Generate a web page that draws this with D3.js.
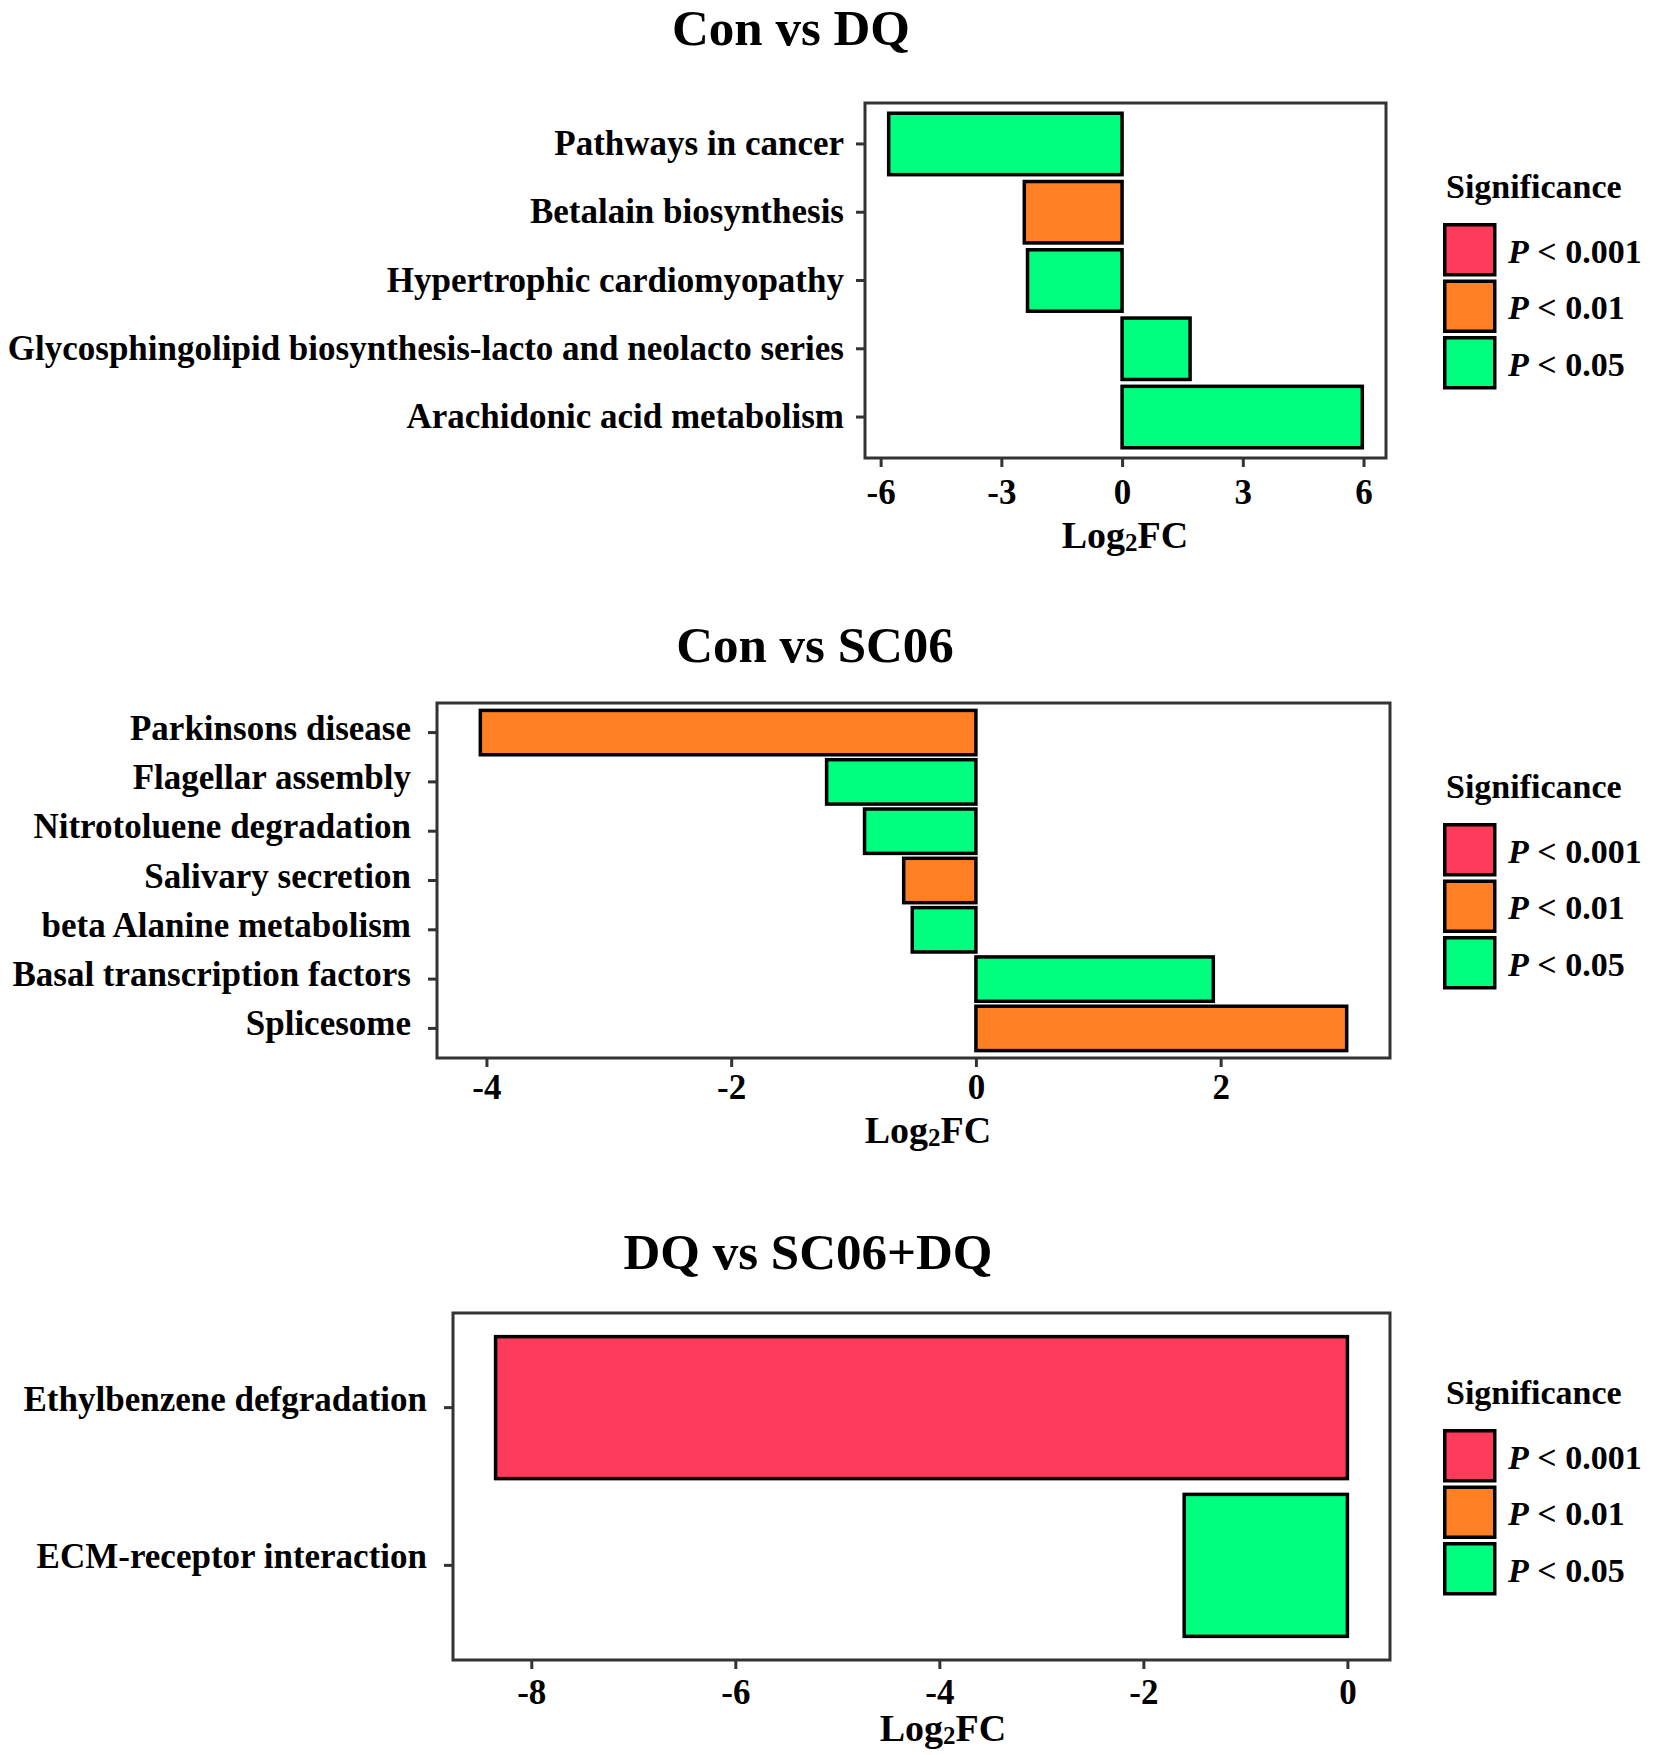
<!DOCTYPE html>
<html>
<head>
<meta charset="utf-8">
<script src="https://cdn.jsdelivr.net/npm/d3@7"></script>
<style>
  body { margin: 0; background: #fff; }
  svg { display: block; }
  text { font-family: "Liberation Serif", "Times New Roman", serif; font-weight: bold; fill: #000; }
</style>
</head>
<body>
<svg id="chart" width="1653" height="1755"></svg>
<script>
// ---- data ----
// Con vs DQ
var dqTerms = ["Pathways in cancer", "Betalain biosynthesis", "Hypertrophic cardiomyopathy",
               "Glycosphingolipid biosynthesis-lacto and neolacto series", "Arachidonic acid metabolism"];
var dqFC = [-5.80, -2.43, -2.35, 1.69, 5.97];
var dqSig = ["P < 0.05", "P < 0.01", "P < 0.05", "P < 0.05", "P < 0.05"];
var dqTicks = [-6, -3, 0, 3, 6];

// Con vs SC06
var sc06Terms = ["Parkinsons disease", "Flagellar assembly", "Nitrotoluene degradation", "Salivary secretion",
                 "beta Alanine metabolism", "Basal transcription factors", "Splicesome"];
var sc06FC = [-4.05, -1.22, -0.91, -0.59, -0.52, 1.94, 3.03];
var sc06Sig = ["P < 0.01", "P < 0.05", "P < 0.05", "P < 0.01", "P < 0.05", "P < 0.05", "P < 0.01"];
var sc06Ticks = [-4, -2, 0, 2];

// DQ vs SC06+DQ
var mixTerms = ["Ethylbenzene defgradation", "ECM-receptor interaction"];
var mixFC = [-8.35, -1.60];
var mixSig = ["P < 0.001", "P < 0.05"];
var mixTicks = [-8, -6, -4, -2, 0];

var sigLevels = ["P < 0.001", "P < 0.01", "P < 0.05"];
var sigColors = ["#ff3b5b", "#ff7f24", "#00ff7f"];

var panels = [
  { title: "Con vs DQ", terms: dqTerms, fc: dqFC, sig: dqSig, ticks: dqTicks,
    x0: 865, x1: 1386, y0: 103, y1: 458, titleX: 791, titleY: 45,
    labPad: 12, labDy: 11, tickBase: 504, xlabX: 1125, xlabY: 548 },
  { title: "Con vs SC06", terms: sc06Terms, fc: sc06FC, sig: sc06Sig, ticks: sc06Ticks,
    x0: 437, x1: 1390, y0: 703, y1: 1058, titleX: 815, titleY: 662,
    labPad: 17, labDy: 7, tickBase: 1099, xlabX: 928, xlabY: 1143 },
  { title: "DQ vs SC06+DQ", terms: mixTerms, fc: mixFC, sig: mixSig, ticks: mixTicks,
    x0: 453, x1: 1390, y0: 1313, y1: 1660, titleX: 808, titleY: 1269,
    labPad: 17, labDy: 3, tickBase: 1704, xlabX: 943, xlabY: 1741 }
];

var svg = d3.select("#chart");
svg.append("rect").attr("width", 1653).attr("height", 1755).attr("fill", "#fff");

var color = d3.scaleOrdinal().domain(sigLevels).range(sigColors);

panels.forEach(function(p) {
  var g = svg.append("g");

  // ggplot style: 5% expansion on a continuous scale that includes 0
  var lo = Math.min(0, d3.min(p.fc)), hi = Math.max(0, d3.max(p.fc));
  var pad = (hi - lo) * 0.05;
  var x = d3.scaleLinear().domain([lo - pad, hi + pad]).range([p.x0, p.x1]);
  var y = d3.scaleBand().domain(p.terms).range([p.y0, p.y1]).paddingInner(0.1).paddingOuter(0.15);

  // title
  g.append("text")
    .attr("x", p.titleX).attr("y", p.titleY)
    .attr("text-anchor", "middle")
    .style("font-size", "51px")
    .text(p.title);

  // bars
  g.selectAll("rect.bar")
    .data(p.terms)
    .enter()
    .append("rect")
    .attr("class", "bar")
    .attr("x", function(d, i) { return x(Math.min(0, p.fc[i])); })
    .attr("width", function(d, i) { return Math.abs(x(p.fc[i]) - x(0)); })
    .attr("y", function(d) { return y(d); })
    .attr("height", y.bandwidth())
    .attr("fill", function(d, i) { return color(p.sig[i]); })
    .attr("stroke", "#000")
    .attr("stroke-width", 3.5);

  // panel border
  g.append("rect")
    .attr("x", p.x0).attr("y", p.y0)
    .attr("width", p.x1 - p.x0).attr("height", p.y1 - p.y0)
    .attr("fill", "none")
    .attr("stroke", "#333")
    .attr("stroke-width", 3);

  // y axis
  var ya = g.append("g")
    .attr("transform", "translate(" + p.x0 + ",0)")
    .call(d3.axisLeft(y).tickSize(9).tickPadding(p.labPad));
  ya.select(".domain").remove();
  ya.selectAll(".tick line").attr("stroke", "#333").attr("stroke-width", 3);
  ya.selectAll(".tick text")
    .attr("dy", p.labDy)
    .style("font-size", "35px")
    .style("font-family", "'Liberation Serif', 'Times New Roman', serif")
    .style("font-weight", "bold")
    .attr("fill", "#000");

  // x axis
  var xa = g.append("g")
    .attr("transform", "translate(0," + p.y1 + ")")
    .call(d3.axisBottom(x).tickValues(p.ticks).tickSize(9).tickFormat(d3.format("d")));
  xa.select(".domain").remove();
  xa.selectAll(".tick line").attr("stroke", "#333").attr("stroke-width", 3);
  xa.selectAll(".tick text")
    .attr("y", p.tickBase - p.y1)
    .attr("dy", 0)
    .text(function(d) { return String(d); })
    .style("font-size", "35px")
    .style("font-family", "'Liberation Serif', 'Times New Roman', serif")
    .style("font-weight", "bold")
    .attr("fill", "#000");

  // x axis title: Log2FC with small 2
  var xl = g.append("text")
    .attr("x", p.xlabX).attr("y", p.xlabY)
    .attr("text-anchor", "middle")
    .style("font-size", "38px");
  xl.append("tspan").text("Log");
  xl.append("tspan").style("font-size", "25px").attr("dy", 3).text("2");
  xl.append("tspan").attr("dy", -3).text("FC");

  // legend
  var cy = (p.y0 + p.y1) / 2;
  var keyTop = cy - 57.5, step = 56.5, kx = 1443;
  var lg = g.append("g");
  lg.append("text")
    .attr("x", 1446).attr("y", keyTop - 25)
    .style("font-size", "34px")
    .text("Significance");
  var items = lg.selectAll("g.key")
    .data(sigLevels)
    .enter()
    .append("g")
    .attr("class", "key")
    .attr("transform", function(d, i) { return "translate(" + kx + "," + (keyTop + i * step) + ")"; });
  items.append("rect")
    .attr("x", 1.75).attr("y", 1.75)
    .attr("width", 50).attr("height", 50)
    .attr("fill", function(d) { return color(d); })
    .attr("stroke", "#000")
    .attr("stroke-width", 3.5);
  var lt = items.append("text")
    .attr("x", 65).attr("y", 26.75 + 13)
    .style("font-size", "34px");
  lt.append("tspan").style("font-style", "italic").text("P");
  lt.append("tspan").text(function(d) { return d.replace("P", ""); });
});
</script>
</body>
</html>
